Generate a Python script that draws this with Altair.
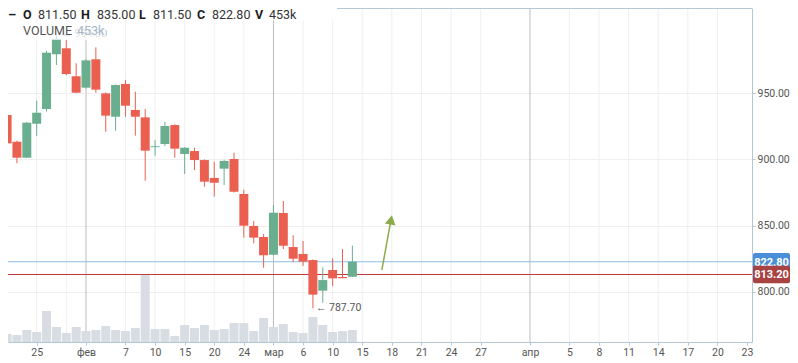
import altair as alt
import pandas as pd

# ---------------- data ----------------
trade_dates = ["2023-01-20", "2023-01-23", "2023-01-24", "2023-01-25", "2023-01-26", "2023-01-27",
               "2023-01-30", "2023-01-31", "2023-02-01", "2023-02-02", "2023-02-03", "2023-02-06",
               "2023-02-07", "2023-02-08", "2023-02-09", "2023-02-10", "2023-02-13", "2023-02-14",
               "2023-02-15", "2023-02-16", "2023-02-17", "2023-02-20", "2023-02-21", "2023-02-22",
               "2023-02-24", "2023-02-27", "2023-02-28", "2023-03-01", "2023-03-02", "2023-03-03",
               "2023-03-06", "2023-03-07", "2023-03-09", "2023-03-10", "2023-03-13", "2023-03-14"]
opens = [933.5, 913.3, 901.3, 926.9, 938.0, 979.3, 983.8, 962.7, 954.1, 975.5, 949.8, 932.2,
         956.9, 937.3, 931.7, 909.2, 911.6, 925.9, 904.1, 906.3, 899.5, 886.0, 893.0, 900.3,
         873.9, 849.8, 841.5, 828.1, 859.6, 833.9, 828.7, 824.1, 801.0, 816.6, 811.3, 811.5]
highs = [934.5, 914.2, 928.0, 944.3, 982.0, 994.3, 990.0, 972.5, 975.5, 984.5, 950.5, 956.5,
         959.9, 951.1, 938.0, 914.6, 928.4, 926.5, 909.2, 908.8, 900.0, 898.3, 899.8, 905.1,
         877.1, 853.5, 843.7, 865.6, 868.6, 842.8, 838.5, 824.6, 818.6, 825.4, 832.4, 835.0]
lows = [910.9, 897.1, 901.0, 917.6, 936.0, 971.2, 963.5, 950.0, 953.5, 950.3, 920.9, 921.6,
        932.2, 917.9, 883.9, 902.8, 910.1, 901.3, 889.0, 892.0, 879.4, 871.9, 880.7, 875.0,
        841.0, 836.7, 818.3, 827.5, 832.4, 822.6, 819.6, 787.7, 791.9, 804.5, 810.3, 811.5]
closes = [912.1, 901.3, 927.7, 935.2, 980.5, 991.0, 964.4, 950.3, 974.7, 952.6, 933.0, 956.1,
          940.5, 932.2, 906.6, 909.9, 925.2, 908.1, 908.8, 899.5, 883.2, 882.4, 898.8, 875.6,
          850.0, 841.0, 827.7, 859.8, 834.9, 825.1, 822.9, 798.0, 809.0, 810.3, 810.4, 822.8]
volumes_k = [302, 264, 453, 378, 1170, 566, 340, 566, 415, 453, 604, 453, 415, 528, 2530, 491,
             491, 226, 642, 528, 642, 453, 491, 717, 717, 415, 906, 566, 680, 378, 340, 944,
             642, 378, 415, 453]

# x axis: trading-day index (Jan 25 = 0), calendar days after the last candle
tick_index = [0, 5, 9, 12, 15, 18, 21, 24, 27, 30, 33, 36, 39, 42, 45, 50, 54, 57, 60, 63, 66, 69, 72]
tick_text = ["25", "фев", "7", "10", "15", "20", "24", "мар", "6", "10", "15", "18", "21", "24",
             "27", "апр", "5", "8", "11", "14", "17", "20", "23"]
grid_index = [0, 3, 9, 12, 15, 18, 21, 27, 30, 33, 36, 39, 42, 45, 54, 57, 60, 63, 66, 69]
month_index = [5, 24, 50]
price_ticks = [800, 850, 900, 950]

last_price = 822.80
ref_price = 813.20
min_low = 787.70
max_high = 994.30

arrow_x = [34.99, 35.85]
arrow_y = [816.6, 852.0]
arrow_head = (35.92, 854.4)

# ---------------- styling ----------------
W, H = 744, 334
RIGHT = 38
XD = [-2.4, 72]
YD = [762.29, 1014.18]
VOL_FULL = 12608          # volume (k) that would fill the whole plot height
GREEN, RED = "#6aae90", "#ea5f4f"
VOLC = "#d7dde3"
GRID, MONTH = "#efefef", "#bdbdbd"
BORDER = "#b5c7d7"
BLUE_LINE, BLUE_BOX = "#8cbce6", "#4a8fd8"
RED_LINE, RED_BOX = "#c03a3a", "#a94242"
ARROW = "#8bab4b"
FONT = "Roboto"

xs = alt.Scale(domain=XD, nice=False, zero=False)
ys = alt.Scale(domain=YD, nice=False, zero=False)

df = pd.DataFrame({
    "date": trade_dates,
    "idx": list(range(-3, len(trade_dates) - 3)),
    "o": opens, "h": highs, "l": lows, "c": closes, "vol": volumes_k,
})

label_expr = ("[" + ",".join(f"'{t}'" for t in tick_text) + "][indexof(["
              + ",".join(str(i) for i in tick_index) + "], datum.value)]")

x_axis = alt.Axis(values=tick_index, labelExpr=label_expr, grid=False, title=None,
                  domainColor=BORDER, tickColor=BORDER, tickSize=3, labelPadding=2,
                  labelFont=FONT, labelFontSize=10.5, labelColor="#555",
                  labelOverlap=False, labelFlush=False)
y_axis = alt.Axis(orient="right", values=price_ticks, format=".2f", title=None,
                  grid=True, gridColor=GRID, domainColor=BORDER, tickColor=BORDER,
                  tickSize=3, labelPadding=2, labelFont=FONT, labelFontSize=10.5,
                  labelColor="#555", labelFlush=False)

one = pd.DataFrame({"a": [0]})
XN = dict(scale=xs, axis=x_axis)   # identical axis on every layer -> one merged axis
YN = dict(scale=ys, axis=y_axis)

# ---------------- background layers ----------------
vgrid = alt.Chart(pd.DataFrame({"g": grid_index})).mark_rule(color=GRID, strokeWidth=1, clip=True).encode(
    x=alt.X("g:Q", **XN))
mgrid = alt.Chart(pd.DataFrame({"g": month_index})).mark_rule(color=MONTH, strokeWidth=1, clip=True).encode(
    x=alt.X("g:Q", **XN))
# volume pane: bars rise from the bottom of the plot, VOL_FULL = full plot height
volume = alt.Chart(df).transform_calculate(
    v0=f"{YD[0]}",
    v1=f"{YD[0]} + datum.vol * {(YD[1] - YD[0]) / VOL_FULL}",
).mark_bar(size=9, color=VOLC, clip=True).encode(
    x=alt.X("idx:Q", **XN), y=alt.Y("v0:Q", **YN), y2="v1:Q")

top_border = alt.Chart(one).mark_rule(color=BORDER, strokeWidth=1).encode(
    x=alt.value(0), x2=alt.value(W), y=alt.value(0.5))

lines = pd.DataFrame({"p": [last_price, ref_price], "kind": ["last", "ref"],
                      "lab": [f"{last_price:.2f}", f"{ref_price:.2f}"]})
lines["lo"] = lines.p - 6.6
lines["hi"] = lines.p + 6.6

blue_line = alt.Chart(lines).transform_filter("datum.kind == 'last'").mark_rule(
    strokeWidth=1, color=BLUE_LINE).encode(y=alt.Y("p:Q", **YN))
red_line = alt.Chart(lines).transform_filter("datum.kind == 'ref'").mark_rule(
    strokeWidth=1, color=RED_LINE).encode(y=alt.Y("p:Q", **YN))

candle_layers = []
for cond, col in [("datum.c >= datum.o", GREEN), ("datum.c < datum.o", RED)]:
    base = alt.Chart(df).transform_filter(cond)
    candle_layers.append(base.mark_rule(strokeWidth=1, color=col, clip=True).encode(
        x=alt.X("idx:Q", **XN), y=alt.Y("l:Q", **YN), y2="h:Q"))
    candle_layers.append(base.mark_bar(size=9, color=col, clip=True).encode(
        x=alt.X("idx:Q", **XN), y=alt.Y("o:Q", **YN), y2="c:Q"))

ext = pd.DataFrame({"idx": [df.idx[df.l.idxmin()], df.idx[df.h.idxmax()]],
                    "v": [min_low, max_high],
                    "t": [f"← {min_low:.2f}", f"← {max_high:.2f}"],
                    "k": ["low", "high"]})
low_label = alt.Chart(ext).transform_filter("datum.k == 'low'").mark_text(
    align="left", baseline="middle", dx=3, font=FONT, fontSize=10.5, color="#555").encode(
    x=alt.X("idx:Q", **XN), y=alt.Y("v:Q", **YN), text="t:N")
high_label = alt.Chart(ext).transform_filter("datum.k == 'high'").mark_text(
    align="left", baseline="middle", dx=5, font=FONT, fontSize=10.5, color="#888").encode(
    x=alt.X("idx:Q", **XN), y=alt.Y("v:Q", **YN), text="t:N")

arrow_line = alt.Chart(pd.DataFrame({"x": arrow_x, "y": arrow_y})).mark_line(
    color=ARROW, strokeWidth=1.5).encode(x=alt.X("x:Q", **XN), y=alt.Y("y:Q", **YN))
arrow_tip = alt.Chart(pd.DataFrame({"x": [arrow_head[0]], "y": [arrow_head[1]]})).mark_point(
    shape="triangle-up", angle=11, size=115, filled=True, opacity=1, color=ARROW).encode(
    x=alt.X("x:Q", **XN), y=alt.Y("y:Q", **YN))

box_layers = []
for kind, box_col in [("last", BLUE_BOX), ("ref", RED_BOX)]:
    base = alt.Chart(lines).transform_filter(f"datum.kind == '{kind}'")
    box_layers.append(base.mark_rect(color=box_col, cornerRadius=2).encode(
        x=alt.value(W + 1), x2=alt.value(W + RIGHT), y=alt.Y("lo:Q", **YN), y2="hi:Q"))
    box_layers.append(base.mark_text(color="white", font=FONT, fontSize=11, fontWeight="bold",
                                     align="center", baseline="middle", dy=1).encode(
        x=alt.value(W + 1 + (RIGHT - 1) / 2), y=alt.Y("p:Q", **YN), text="lab:N"))

# ---------------- header overlay ----------------
header_band = alt.Chart(one).mark_rect(color="white").encode(
    x=alt.value(0), x2=alt.value(329), y=alt.value(0), y2=alt.value(12))
vol_band = alt.Chart(one).mark_rect(color="white", opacity=0.72).encode(
    x=alt.value(12), x2=alt.value(98), y=alt.value(14), y2=alt.value(32))

header_items = [("–", 0, True), ("O", 15, True), (f"{opens[-1]:.2f}", 30, False),
                ("H", 73, True), (f"{highs[-1]:.2f}", 89, False),
                ("L", 131, True), (f"{lows[-1]:.2f}", 145, False),
                ("C", 189, True), (f"{closes[-1]:.2f}", 204, False),
                ("V", 247, True), (f"{volumes_k[-1]}k", 261, False)]
header_layers = []
for txt, hx, bold in header_items:
    header_layers.append(alt.Chart(one).mark_text(
        text=txt, align="left", baseline="top", font=FONT,
        fontSize=13 if txt == "–" else 12.5, fontWeight="bold" if bold else "normal",
        color="#1a1a1a" if bold else "#333").encode(x=alt.value(hx), y=alt.value(1)))
header_layers.append(alt.Chart(one).mark_text(
    text="VOLUME", align="left", baseline="middle", font=FONT, fontSize=12.5, color="#555").encode(
    x=alt.value(15), y=alt.value(23)))
header_layers.append(alt.Chart(one).mark_text(
    text=f"{volumes_k[-1]}k", align="left", baseline="middle", font=FONT, fontSize=12.5,
    color="#a6b8ca").encode(x=alt.value(69), y=alt.value(23)))

chart = alt.layer(
    vgrid, mgrid, volume, blue_line, red_line, top_border, *candle_layers,
    low_label, high_label, arrow_line, arrow_tip, *box_layers,
    header_band, vol_band, *header_layers,
).properties(
    width=W, height=H,
    autosize=alt.AutoSizeParams(type="none"),
    padding={"left": 0, "top": 0, "right": RIGHT, "bottom": 21},
).configure(font=FONT, background="white").configure_view(stroke=None)

chart.save("out.html", embed_options={"renderer": "svg", "actions": False})
